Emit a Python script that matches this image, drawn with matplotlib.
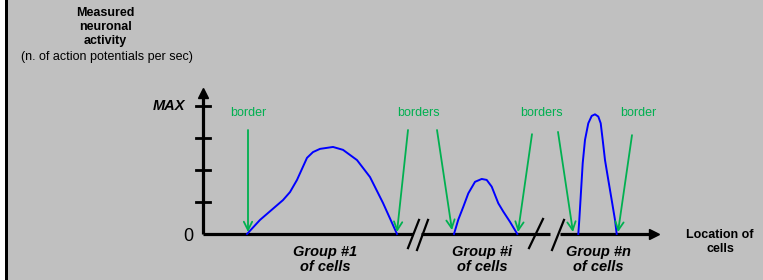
import matplotlib
matplotlib.use("Agg")
import matplotlib.pyplot as plt
from matplotlib.patches import Rectangle

plt.rcParams["font.family"] = ["Liberation Sans", "DejaVu Sans"]

# Activity profiles (x = location along the axis, y = activity in tick units, MAX = 4)
group1_x = [44, 57, 80, 87, 94, 104, 110, 117, 130, 140, 154, 167, 180, 194]
group1_y = [0, 0.44, 1.06, 1.31, 1.69, 2.38, 2.56, 2.66, 2.72, 2.63, 2.31, 1.78, 0.97, 0]

groupi_x = [251, 255.3, 260.3, 265.3, 272, 278.7, 283.7, 288.7, 292, 295.3, 300.3, 307, 314.3]
groupi_y = [0, 0.45, 0.85, 1.27, 1.63, 1.72, 1.69, 1.48, 1.22, 0.96, 0.70, 0.38, 0]

groupn_x = [375.3, 376.3, 377.7, 379.7, 382, 385.3, 388.7, 392, 395.3, 397.7, 399.7,
            402, 405.3, 408.7, 412, 413.7]
groupn_y = [0, 0.44, 1.17, 2.21, 2.94, 3.46, 3.69, 3.74, 3.67, 3.46, 2.94,
            2.31, 1.69, 1.06, 0.44, 0]

# Border arrows: tail -> head
arrow_tail_x = [45, 205, 234, 329, 355, 429]
arrow_tail_y = [3.25, 3.25, 3.25, 3.12, 3.19, 3.09]
arrow_head_x = [45, 194, 249, 315, 370, 415]
arrow_head_y = [0.06, 0.06, 0.12, 0.06, 0.06, 0.06]

border_labels = ["border", "borders", "borders", "border"]
border_label_x = [45, 215, 338, 435]

group_labels = ["Group #1\nof cells", "Group #i\nof cells", "Group #n\nof cells"]
group_label_x = [122, 279, 395]

y_ticks = [1, 2, 3, 4]

# x-axis pieces between the breaks
axis_segments = [(0, 210), (218, 347), (357, 450)]
break_slashes = [((205, 216), (-0.44, 0.44)), ((214, 225), (-0.5, 0.44)),
                 ((326, 340), (-0.44, 0.47)), ((349, 361), (-0.5, 0.44))]

gray = "#c0c0c0"
green = "#00b050"
blue = "#0000ff"

fig = plt.figure(figsize=(7.63, 2.80), dpi=100, facecolor=gray)
ax = fig.add_axes([0, 0, 1, 1])
ax.set_xlim(-203, 560)
ax.set_ylim(-1.4375, 7.3125)
ax.axis("off")

# left frame strip
fig.patches.append(Rectangle((0, 0), 5 / 763, 1, transform=fig.transFigure,
                             facecolor="white", edgecolor="none"))
fig.patches.append(Rectangle((5 / 763, 0), 3 / 763, 1, transform=fig.transFigure,
                             facecolor="black", edgecolor="none"))

# axes
ax.plot([0, 0], [0, 4.4], color="black", lw=2.3, solid_capstyle="butt")
ax.plot([0], [4.42], marker="^", color="black", markersize=7)
for t in y_ticks:
    ax.plot([-7, 7], [t, t], color="black", lw=2.0)
for x0, x1 in axis_segments:
    ax.plot([x0, x1], [0, 0], color="black", lw=2.3, solid_capstyle="butt")
ax.plot([451], [0], marker=">", color="black", markersize=7)
for xs, ys in break_slashes:
    ax.plot(xs, ys, color="black", lw=1.6)

# curves
ax.plot(group1_x, group1_y, color=blue, lw=1.4)
ax.plot(groupi_x, groupi_y, color=blue, lw=1.4)
ax.plot(groupn_x, groupn_y, color=blue, lw=1.4)

# border arrows
for tx, ty, hx, hy in zip(arrow_tail_x, arrow_tail_y, arrow_head_x, arrow_head_y):
    ax.annotate("", xy=(hx, hy), xytext=(tx, ty),
                arrowprops=dict(arrowstyle="->,head_length=0.6,head_width=0.3",
                                color=green, lw=1.3, shrinkA=0, shrinkB=0))
for lbl, lx in zip(border_labels, border_label_x):
    ax.text(lx, 3.78, lbl, color=green, fontsize=9, ha="center", va="center")

# texts
ax.text(-98, 6.47, "Measured\nneuronal\nactivity", fontsize=9, fontweight="bold",
        ha="center", va="center", linespacing=1.2)
ax.text(-96, 5.53, "(n. of action potentials per sec)", fontsize=9,
        ha="center", va="center")
ax.text(-18, 4.0, "MAX", fontsize=10.5, fontweight="bold", style="italic",
        ha="right", va="center")
ax.text(-10, -0.08, "0", fontsize=13, ha="right", va="center")
for lbl, lx in zip(group_labels, group_label_x):
    ax.text(lx, -0.81, lbl, fontsize=10.5, fontweight="bold", style="italic",
            ha="center", va="center", linespacing=1.1)
ax.text(517, -0.25, "Location of\ncells", fontsize=9, fontweight="bold",
        ha="center", va="center", linespacing=1.2)

fig.savefig("out.png", dpi=100, facecolor=gray)
